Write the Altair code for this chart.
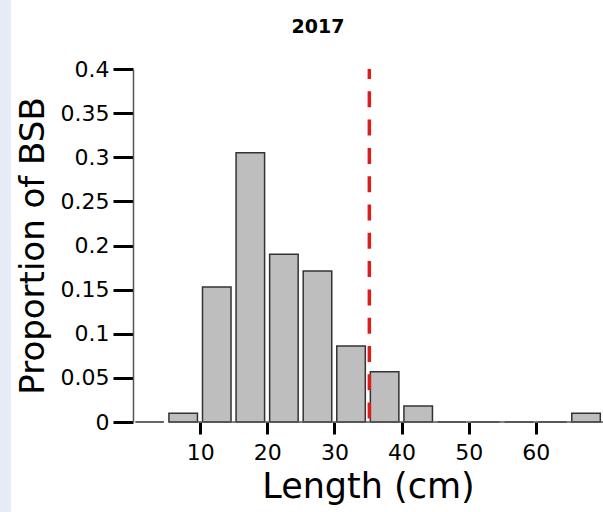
import altair as alt
import pandas as pd

# ---- data ----
bin_start = [0, 5, 10, 15, 20, 25, 30, 35, 40, 45, 50, 55, 60, 65]
proportion = [0.0, 0.010, 0.153, 0.305, 0.190, 0.171, 0.086, 0.057, 0.018, 0.0, 0.0, 0.0, 0.0, 0.010]
legal_size = [35.2]
x_ticks = [10, 20, 30, 40, 50, 60]
y_ticks = [0, 0.05, 0.1, 0.15, 0.2, 0.25, 0.3, 0.35, 0.4]
title_text = "2017"
x_title = "Length (cm)"
y_title = "Proportion of BSB"

FONT = "DejaVu Sans"

df = pd.DataFrame({"start": bin_start, "prop": proportion})
df_line = pd.DataFrame({"len": legal_size})

xscale = alt.Scale(domain=[0, 70], nice=False, zero=False)
yscale = alt.Scale(domain=[0, 0.4], nice=False)

bars = alt.Chart(df).transform_calculate(
    left="datum.start + 0.35", right="datum.start + 4.6"
).mark_bar(fill="#bebebe", stroke="#333333", strokeWidth=1.5, clip=False).encode(
    x=alt.X("left:Q", scale=xscale,
            axis=alt.Axis(values=x_ticks, format="d", title=x_title, domain=False,
                          grid=False, tickColor="black", tickWidth=3, tickSize=12,
                          labelFont=FONT, labelFontSize=22, labelColor="black",
                          labelPadding=8, titleFont=FONT, titleFontSize=35,
                          titleFontWeight="normal", titleColor="black", titlePadding=6)),
    x2="right:Q",
    y=alt.Y("prop:Q", scale=yscale,
            axis=alt.Axis(values=y_ticks, format="~g", title=y_title, grid=False,
                          domainColor="#555555", domainWidth=1.5,
                          tickColor="black", tickWidth=3, tickSize=20,
                          labelFont=FONT, labelFontSize=22, labelColor="black",
                          labelPadding=4, titleFont=FONT, titleFontSize=34,
                          titleFontWeight="normal", titleColor="black", titlePadding=10)),
    y2=alt.datum(0),
)

# baseline under the bars (from the first non-empty bar to the right edge)
first_nonzero = next(s for s, p in zip(bin_start, proportion) if p > 0)
df_base = pd.DataFrame({"x0": [first_nonzero + 0.35], "x1": [70]})
base = alt.Chart(df_base).mark_rule(color="#555555", strokeWidth=1.5).encode(
    x=alt.X("x0:Q", scale=xscale), x2="x1:Q", y=alt.datum(0)
)

legal = alt.Chart(df_line).mark_rule(
    color="#dd1c1c", strokeWidth=3.5, strokeDash=[16, 12.3], strokeDashOffset=6
).encode(
    x=alt.X("len:Q", scale=xscale),
    y=alt.datum(0.4),
    y2=alt.datum(0),
)

strip = alt.Chart(pd.DataFrame({"a": [0]})).mark_rect(color="#e6ecf5").encode(
    x=alt.value(-133), x2=alt.value(-122), y=alt.value(-69), y2=alt.value(443)
)

chart = alt.layer(strip, bars, base, legal).properties(
    width=470,
    height=353,
    padding={"left": 133, "top": 69, "right": 0, "bottom": 90},
    autosize="none",
    title=alt.TitleParams(title_text, font=FONT, fontSize=19, fontWeight="bold",
                          color="black", anchor="middle", dx=-50, offset=-37),
).configure(background="white").configure_view(stroke=None)

chart.save("out.html", embed_options={"renderer": "svg", "actions": False})
